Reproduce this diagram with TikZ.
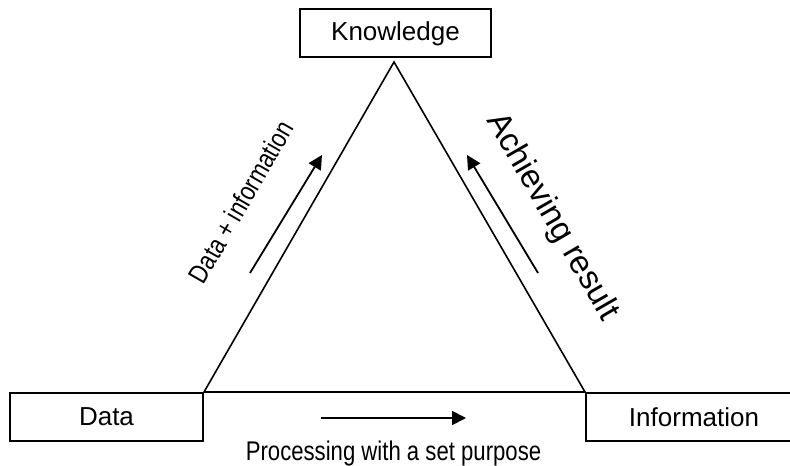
\documentclass[tikz,border=0pt]{standalone}
\usepackage{fontspec}
\setmainfont{Liberation Sans}
\usetikzlibrary{arrows.meta}

% narrow text, as in the original
\newcommand{\narrowtext}[1]{\scalebox{0.82}[1]{#1}}

\tikzset{
  box/.style={draw, line width=1pt, minimum height=24pt, inner sep=0pt,
              font=\fontsize{13}{15}\selectfont},
  side/.style={line width=0.8pt},
  flow/.style={line width=0.9pt, -{Triangle[length=7pt,width=7pt]}},
  narrowlabel/.style={font=\fontsize{13.5}{16}\selectfont, inner sep=0pt},
}

\begin{document}
\begin{tikzpicture}[x=0.5pt, y=0.5pt]

\clip (0,0) rectangle (790,465);

% boxes
\node[box, minimum width=95.5pt] (know) at (395.5, 431.5) {Knowledge};
\node[box, minimum width=96.5pt] (data) at (106.5, 48) {Data};
\node[box, minimum width=108pt]  (info) at (694, 48) {Information};

% triangle
\coordinate (apex) at (394, 403);
\draw[side] (data.north east) -- (apex) -- (info.north west) -- cycle;

% arrows along the sides
\coordinate (dL) at (250, 192);
\coordinate (uL) at (322, 310);
\coordinate (dR) at (538, 192);
\coordinate (uR) at (467, 310);
\coordinate (bL) at (321, 47);
\coordinate (bR) at (466, 47);
\draw[flow] (dL) -- (uL);
\draw[flow] (dR) -- (uR);
\draw[flow] (bL) -- (bR);

% labels
\node[narrowlabel, rotate=60] (lblL) at (241, 263) {\narrowtext{Data + information}};
\node[rotate=-60, inner sep=0pt, font=\fontsize{16.5}{20}\selectfont] (lblR) at (552, 248) {Achieving result};
\node[narrowlabel, anchor=base] (lblB) at (393.5, 5) {\narrowtext{Processing with a set purpose}};

\end{tikzpicture}
\end{document}
